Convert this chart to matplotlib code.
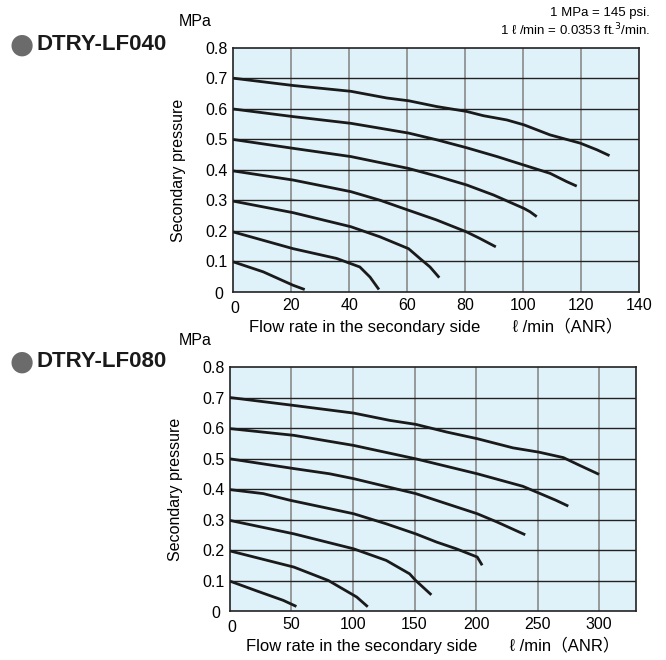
import matplotlib as mpl
import matplotlib.pyplot as plt
from matplotlib import font_manager

# condensed look if available
names = {f.name for f in font_manager.fontManager.ttflist}
fam = 'Liberation Sans Narrow' if 'Liberation Sans Narrow' in names else 'Liberation Sans'
mpl.rcParams['font.family'] = [fam, 'DejaVu Sans']

# DTRY-LF040 curves (flow l/min, pressure MPa)
lf040_x = [
    [0, 10.4, 20.7, 24.7],
    [0, 20.7, 35.7, 43.7, 47.2, 50.3],
    [0, 20.7, 40.6, 50.6, 60.5, 64.4, 67.9, 71.1],
    [0, 20.7, 40.6, 50.6, 60.5, 70.2, 80.5, 85.2, 90.6],
    [0, 20.7, 40.6, 60.5, 70.2, 80.5, 89.8, 100.3, 102.4, 104.7],
    [0, 20.7, 40.6, 50.6, 60.5, 70.2, 80.5, 91, 100.3, 109.3, 115, 118.5],
    [0, 20.7, 40.6, 53, 60.5, 70.2, 80.5, 86.3, 94.4, 100.3, 109.3, 119.7, 125.5, 129.8],
]
lf040_y = [
    [0.099, 0.066, 0.022, 0.008],
    [0.197, 0.142, 0.110, 0.082, 0.049, 0.008],
    [0.298, 0.260, 0.214, 0.181, 0.142, 0.110, 0.082, 0.047],
    [0.397, 0.367, 0.329, 0.301, 0.268, 0.236, 0.197, 0.175, 0.148],
    [0.500, 0.471, 0.444, 0.405, 0.380, 0.351, 0.318, 0.274, 0.263, 0.247],
    [0.600, 0.575, 0.553, 0.537, 0.521, 0.499, 0.473, 0.444, 0.416, 0.389, 0.362, 0.347],
    [0.701, 0.677, 0.658, 0.636, 0.627, 0.608, 0.592, 0.578, 0.564, 0.548, 0.515, 0.488, 0.466, 0.447],
]

# DTRY-LF080 curves
lf080_x = [
    [0, 21.7, 43.3, 54],
    [0, 52, 80, 103, 112],
    [0, 52, 100.5, 127, 146, 151, 163.7],
    [0, 27, 49, 100.5, 127, 151, 168, 184, 201, 205],
    [0, 52, 81, 100.5, 151, 176, 201, 217, 240],
    [0, 52, 100.5, 151, 201, 238, 251, 265, 275],
    [0, 52, 100.5, 130, 151, 176, 201, 230, 251, 271, 284, 300],
]
lf080_y = [
    [0.098, 0.066, 0.035, 0.015],
    [0.197, 0.144, 0.100, 0.046, 0.014],
    [0.297, 0.253, 0.204, 0.166, 0.122, 0.100, 0.053],
    [0.398, 0.385, 0.363, 0.319, 0.286, 0.253, 0.226, 0.204, 0.177, 0.150],
    [0.499, 0.467, 0.450, 0.434, 0.385, 0.352, 0.319, 0.292, 0.250],
    [0.598, 0.576, 0.543, 0.499, 0.450, 0.409, 0.387, 0.363, 0.344],
    [0.700, 0.674, 0.649, 0.625, 0.612, 0.587, 0.565, 0.535, 0.521, 0.503, 0.478, 0.448],
]

y_ticks = [0, 0.1, 0.2, 0.3, 0.4, 0.5, 0.6, 0.7, 0.8]
y_labels = ['0', '0.1', '0.2', '0.3', '0.4', '0.5', '0.6', '0.7', '0.8']
lf040_xticks = [0, 20, 40, 60, 80, 100, 120, 140]
lf080_xticks = [0, 50, 100, 150, 200, 250, 300]

fig = plt.figure(figsize=(6.66, 6.6), dpi=100)


def draw(ax, xs, ys, xticks, xmax):
    ax.set_facecolor('#dff2fa')
    ax.set_xlim(0, xmax)
    ax.set_ylim(0, 0.8)
    for v in xticks[1:]:
        if v < xmax:
            ax.axvline(v, color='#8a8a8a', lw=1.2, zorder=1)
    for v in y_ticks[1:-1]:
        ax.axhline(v, color='#222222', lw=1.0, zorder=1)
    for x, y in zip(xs, ys):
        ax.plot(x, y, color='#1a1a1a', lw=2.0, solid_capstyle='butt',
                solid_joinstyle='round', zorder=3)
    ax.set_xticks(xticks)
    ax.set_xticklabels([str(t) if t else '' for t in xticks])
    ax.set_yticks(y_ticks)
    ax.set_yticklabels(['' if t == '0' else t for t in y_labels])
    ax.tick_params(length=0, labelsize=11.5, pad=4)
    for s in ax.spines.values():
        s.set_color('#222222')
        s.set_linewidth(1.2)
    ax.set_ylabel('Secondary pressure', fontsize=11.5, labelpad=14)
    ax.set_xlabel('Flow rate in the secondary side       ℓ /min（ANR）', fontsize=12,
                  labelpad=4, family=[fam, 'Noto Sans CJK JP', 'DejaVu Sans'])
    # corner zero labels
    ax.text(-0.025, -0.01, '0', transform=ax.transAxes, ha='right', va='center', fontsize=11.5)
    ax.text(0.005, -0.035, '0', transform=ax.transAxes, ha='center', va='top', fontsize=11.5)


ax1 = fig.add_axes([0.350, 0.5576, 0.6096, 0.3697])
draw(ax1, lf040_x, lf040_y, lf040_xticks, 140)
ax2 = fig.add_axes([0.3453, 0.0742, 0.6096, 0.3697])
draw(ax2, lf080_x, lf080_y, lf080_xticks, 330)

# titles and units
for yy, name in [(0.932, 'DTRY-LF040'), (0.452, 'DTRY-LF080')]:
    fig.text(0.033, yy, '●', color='#6b6b6b', fontsize=20, va='center', ha='center',
             family='DejaVu Sans')
    fig.text(0.055, yy, name, fontsize=16, fontweight='bold', va='center', ha='left',
             family=['Liberation Sans', 'DejaVu Sans'], color='#1a1a1a')
fig.text(0.268, 0.968, 'MPa', fontsize=11.5, ha='left', va='center')
fig.text(0.268, 0.484, 'MPa', fontsize=11.5, ha='left', va='center')
fig.text(0.976, 0.980, '1 MPa = 145 psi.', fontsize=9.5, ha='right', va='center')
fig.text(0.976, 0.954, '1 ℓ /min = 0.0353 ft.$^3$/min.', fontsize=9.5, ha='right', va='center')

fig.savefig('out.png', dpi=100)
